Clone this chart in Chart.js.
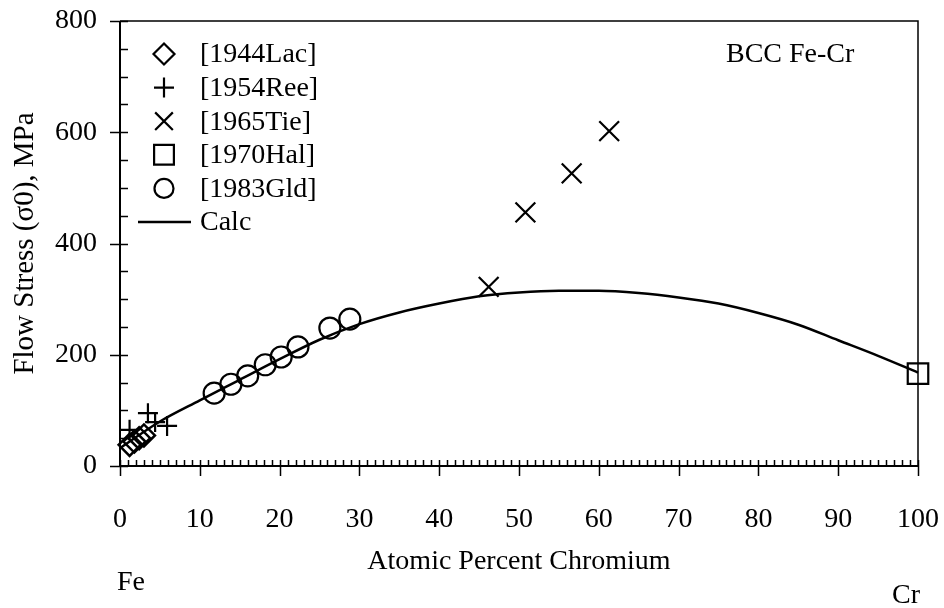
<!DOCTYPE html>
<html><head><meta charset="utf-8">
<script src="https://cdn.jsdelivr.net/npm/chart.js@4/dist/chart.umd.min.js"></script>
<style>html,body{margin:0;padding:0;background:#fff;}#wrap{width:944px;height:608px;}</style>
</head><body><div id="wrap"><canvas id="c" width="944" height="608"></canvas></div>
<script>
// ---- data ----
const lacX = [1.2, 1.8, 2.4, 3.0];
const lacY = [38, 44, 50, 55];
const reeX = [1.2, 3.5, 4.4, 5.9];
const reeY = [65, 95, 79, 72];
const tieX = [46.2, 50.8, 56.6, 61.3];
const tieY = [322, 456, 526, 602];
const halX = [100];
const halY = [166];
const gldX = [11.8, 13.9, 16.0, 18.2, 20.2, 22.3, 26.3, 28.8];
const gldY = [131, 147, 162, 182, 196, 214, 248, 264];
const calcX = [0, 5, 10, 15, 20, 25, 30, 35, 40, 45, 50, 55, 60, 65, 70, 75, 80, 85, 90, 95, 100];
const calcY = [32, 80, 118, 155, 192, 227, 255, 276, 292, 305, 312, 315, 315, 311, 303, 292, 275, 254, 226, 198, 168];
const xTickVals = [0, 10, 20, 30, 40, 50, 60, 70, 80, 90, 100];
const yTickVals = [0, 200, 400, 600, 800];
const seriesLabels = ['[1944Lac]', '[1954Ree]', '[1965Tie]', '[1970Hal]', '[1983Gld]', 'Calc'];
const xTitle = 'Atomic Percent Chromium';
const yTitle = 'Flow Stress (\u03c30), MPa';
const noteText = 'BCC Fe-Cr';
const leftEnd = 'Fe';
const rightEnd = 'Cr';

const FONT = '"Liberation Serif", "Times New Roman", serif';
const pts = (xs, ys) => xs.map((x, i) => ({x: x, y: ys[i]}));

const markerDefs = [
  {style: 'rectRot', r: 11},
  {style: 'cross', r: 10},
  {style: 'crossRot', r: 14},
  {style: 'rect', r: 14.5},
  {style: 'circle', r: 10.5}
];
const seriesData = [pts(lacX, lacY), pts(reeX, reeY), pts(tieX, tieY), pts(halX, halY), pts(gldX, gldY)];

const datasets = seriesData.map((d, i) => ({
  label: seriesLabels[i],
  data: d,
  showLine: false,
  pointStyle: markerDefs[i].style,
  pointRadius: markerDefs[i].r,
  pointBorderWidth: i === 0 ? 2.5 : 2.2,
  pointBorderColor: '#000',
  pointBackgroundColor: 'rgba(0,0,0,0)',
  clip: false
}));
datasets.push({
  label: seriesLabels[5],
  data: pts(calcX, calcY),
  showLine: true,
  borderColor: '#000',
  borderWidth: 2.5,
  pointRadius: 0,
  cubicInterpolationMode: 'monotone',
  fill: false,
  clip: false
});

function drawMarker(ctx, style, x, y, r) {
  ctx.beginPath();
  if (style === 'circle') {
    ctx.arc(x, y, r, 0, Math.PI * 2);
  } else if (style === 'rect') {
    const s = r * Math.SQRT1_2;
    ctx.rect(x - s, y - s, 2 * s, 2 * s);
  } else if (style === 'rectRot') {
    ctx.moveTo(x, y - r); ctx.lineTo(x + r, y); ctx.lineTo(x, y + r); ctx.lineTo(x - r, y); ctx.closePath();
  } else if (style === 'cross') {
    ctx.moveTo(x - r, y); ctx.lineTo(x + r, y); ctx.moveTo(x, y - r); ctx.lineTo(x, y + r);
  } else if (style === 'crossRot') {
    const s = r * Math.SQRT1_2;
    ctx.moveTo(x - s, y - s); ctx.lineTo(x + s, y + s); ctx.moveTo(x - s, y + s); ctx.lineTo(x + s, y - s);
  }
  ctx.stroke();
}

const decor = {
  id: 'decor',
  afterDraw(chart) {
    const ctx = chart.ctx;
    const a = chart.chartArea;
    const xs = chart.scales.x, ys = chart.scales.y;
    ctx.save();
    ctx.strokeStyle = '#000';
    // frame
    ctx.lineWidth = 2;
    ctx.beginPath();
    ctx.moveTo(a.left, a.top); ctx.lineTo(a.left, a.bottom); ctx.lineTo(a.right, a.bottom);
    ctx.stroke();
    ctx.lineWidth = 1.5;
    ctx.beginPath();
    ctx.moveTo(a.left, a.top); ctx.lineTo(a.right, a.top); ctx.lineTo(a.right, a.bottom);
    ctx.stroke();
    // y ticks
    ctx.lineWidth = 1.5;
    ctx.beginPath();
    for (let v = 0; v <= 800; v += 50) {
      const py = Math.round(ys.getPixelForValue(v)) + 0.5;
      if (v % 200 === 0) { ctx.moveTo(a.left - 10, py); ctx.lineTo(a.left + 8, py); }
      else { ctx.moveTo(a.left, py); ctx.lineTo(a.left + 8, py); }
    }
    // x ticks
    for (let v = 0; v <= 100; v += 1) {
      const px = Math.round(xs.getPixelForValue(v)) + 0.5;
      if (v % 10 === 0) { ctx.moveTo(px, a.bottom + 10); ctx.lineTo(px, a.bottom - 6); }
      else { ctx.moveTo(px, a.bottom); ctx.lineTo(px, a.bottom - 6); }
    }
    ctx.stroke();
    // legend
    const lx = 164, tx = 200, y0 = 54, dy = 33.6;
    ctx.lineWidth = 2.2;
    ctx.fillStyle = '#000';
    ctx.font = '28px ' + FONT;
    ctx.textBaseline = 'middle';
    ctx.textAlign = 'left';
    for (let i = 0; i < 6; i++) {
      const yy = y0 + i * dy;
      if (i < 5) {
        const m = markerDefs[i];
        const rr = i === 2 ? 12.5 : (i === 3 ? 14 : (i === 4 ? 9.5 : (i === 0 ? 10.5 : m.r)));
        drawMarker(ctx, m.style, lx, yy, rr);
      } else {
        ctx.lineWidth = 2.5;
        ctx.beginPath(); ctx.moveTo(138, yy); ctx.lineTo(191, yy); ctx.stroke();
      }
      ctx.fillText(seriesLabels[i], tx, yy + 1);
    }
    // note and end labels
    ctx.font = '28px ' + FONT;
    ctx.fillText(noteText, 726, 55);
    ctx.fillText(leftEnd, 117, 583);
    ctx.fillText(rightEnd, 892, 596);
    ctx.restore();
  }
};

new Chart(document.getElementById('c'), {
  type: 'scatter',
  data: {datasets: datasets},
  options: {
    responsive: false,
    animation: false,
    devicePixelRatio: 1,
    layout: {padding: {left: 0, right: 26, top: 21, bottom: 0}},
    plugins: {legend: {display: false}, tooltip: {enabled: false}},
    scales: {
      x: {
        type: 'linear', min: 0, max: 100,
        afterFit: s => { s.height = 142; s.paddingLeft = 0; s.paddingRight = 0; },
        afterBuildTicks: s => { s.ticks = xTickVals.map(v => ({value: v})); },
        grid: {display: false, drawTicks: false},
        border: {display: false},
        ticks: {color: '#000', padding: 37, maxRotation: 0, font: {family: FONT, size: 28}},
        title: {display: true, text: xTitle, color: '#000', font: {family: FONT, size: 28}, padding: {top: 0, bottom: 30}}
      },
      y: {
        type: 'linear', min: 0, max: 800,
        afterFit: s => { s.width = 120; s.paddingTop = 0; s.paddingBottom = 0; },
        afterBuildTicks: s => { s.ticks = yTickVals.map(v => ({value: v})); },
        grid: {display: false, drawTicks: false},
        border: {display: false},
        ticks: {color: '#000', padding: 23, font: {family: FONT, size: 28}},
        title: {display: true, text: yTitle, color: '#000', font: {family: FONT, size: 29}, padding: {top: 8, bottom: 0}}
      }
    }
  },
  plugins: [decor]
});
</script></body></html>
